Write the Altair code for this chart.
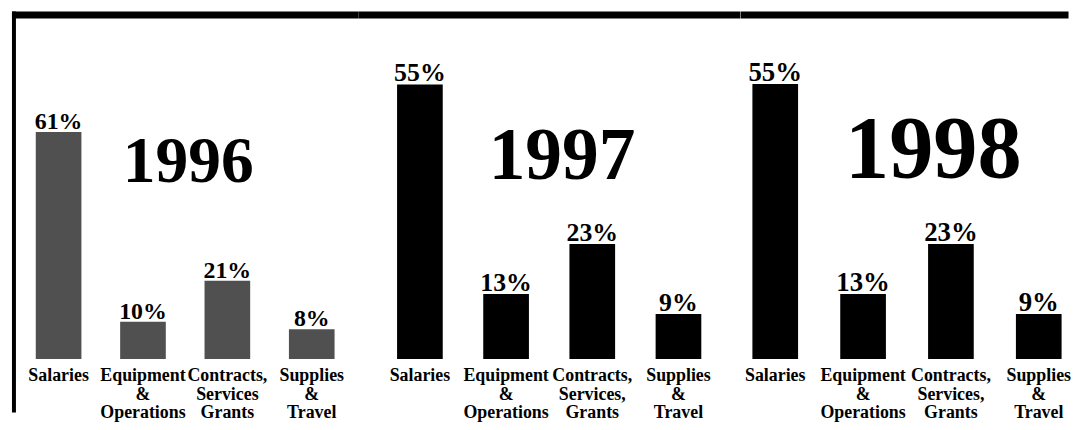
import altair as alt
import pandas as pd

# ---- data ----
years = ["1996", "1997", "1998"]
categories_1996 = ["Salaries", "Equipment\n&\nOperations", "Contracts,\nServices\nGrants", "Supplies\n&\nTravel"]
categories_1997 = ["Salaries", "Equipment\n&\nOperations", "Contracts,\nServices,\nGrants", "Supplies\n&\nTravel"]
categories_1998 = ["Salaries", "Equipment\n&\nOperations", "Contracts,\nServices,\nGrants", "Supplies\n&\nTravel"]
shares_1996 = [61, 10, 21, 8]
shares_1997 = [55, 13, 23, 9]
shares_1998 = [55, 13, 23, 9]

FONT = "Liberation Serif"
PLOT_H = 350


def panel(year, cats, shares, color, ymax, width, pin, pout, align,
          title_size, title_dx, title_off, value_size, label_size, line_h,
          left_border=False):
    df = pd.DataFrame({
        "category": cats,
        "share": shares,
        "label": [f"{s}%" for s in shares],
    })
    xenc = alt.X(
        "category:N", sort=cats,
        scale=alt.Scale(paddingInner=pin, paddingOuter=pout, align=align, round=False),
        axis=alt.Axis(
            title=None, labelAngle=0, ticks=False, domain=False,
            labelExpr="split(datum.label, '\\n')",
            labelFont=FONT, labelFontSize=label_size, labelFontWeight="bold",
            labelColor="black", labelPadding=8, labelLineHeight=line_h,
            labelBaseline="top", labelLimit=300,
        ),
    )
    yenc = alt.Y("share:Q", scale=alt.Scale(domain=[0, ymax], nice=False), axis=None)
    base = alt.Chart(df)
    bars = base.mark_bar(color=color).encode(x=xenc, y=yenc)
    vals = base.mark_text(
        font=FONT, fontWeight="bold", fontSize=value_size,
        baseline="alphabetic", dy=-3, color="black",
    ).encode(x=xenc, y=yenc, text="label:N")
    band = alt.Chart(alt.Data(values=[{}])).mark_rule(color="black", strokeWidth=7).encode(
        x=alt.value(0), x2=alt.value(width), y=alt.value(3.5)
    )
    layers = [band, bars, vals]
    if left_border:
        border = alt.Chart(alt.Data(values=[{}])).mark_rule(color="black", strokeWidth=4).encode(
            x=alt.value(2), y=alt.value(0), y2=alt.value(404)
        )
        layers.append(border)
    return alt.layer(*layers).properties(
        width=width, height=PLOT_H,
        title=alt.TitleParams(
            text=year, font=FONT, fontSize=title_size, fontWeight="bold",
            color="black", anchor="middle", frame="group", orient="top",
            baseline="alphabetic", offset=-title_off, dx=title_dx,
        ),
    )


p1 = panel(years[0], categories_1996, shares_1996, "#505050", 93.4, 349,
           0.459, 0.282, 0.5, 66, 3, 240, 24, 18, 18.5, left_border=True)
p2 = panel(years[1], categories_1997, shares_1997, "black", 69.6, 384.5,
           0.470, 0.449, 0.5, 74, 13, 243, 26, 18, 18.5)
p3 = panel(years[2], categories_1998, shares_1998, "black", 69.5, 330.5,
           0.480, 0.1073, 0.632, 89, 29, 256, 27, 18, 18.5)

chart = alt.hconcat(p1, p2, p3, spacing=0, bounds="flush").properties(
    padding=0, background="white"
).configure_view(stroke=None)

chart.save("out.html", embed_options={"renderer": "svg", "actions": False})
